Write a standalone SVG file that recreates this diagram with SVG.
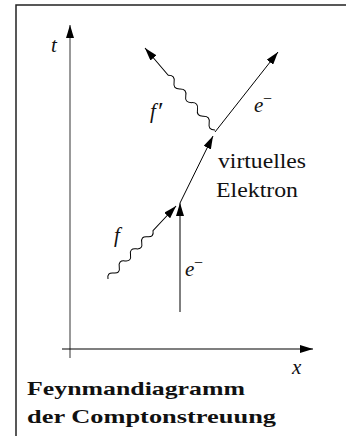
<svg xmlns="http://www.w3.org/2000/svg" width="346" height="436" viewBox="0 0 346 436">
<style>
.frame{stroke:#222;stroke-width:1.5;fill:none}
.ln{stroke:#000;stroke-width:1;fill:none}
.wave{stroke:#000;stroke-width:1;fill:none}
.math{font-family:'Liberation Serif',serif;font-style:italic;font-size:21px;fill:#111}
.sym{font-family:'Liberation Serif',serif;fill:#111}
.rm{font-family:'Liberation Serif',serif;font-size:21px;fill:#111}
.bf{font-family:'Liberation Serif',serif;font-weight:bold;font-size:19px;fill:#111}
</style>
<defs>
<marker id="arr" markerUnits="userSpaceOnUse" markerWidth="13" markerHeight="8" refX="13" refY="4" orient="auto">
<path d="M0,0 L13,4 L0,8 z" fill="#000"/>
</marker>
</defs>
<g id="frame">
<path class="frame" d="M16,436 L16,5 L346,5"/>
</g>
<g id="axes">
<line x1="70" y1="358" x2="70" y2="25" stroke="#777" stroke-width="1.5" marker-end="url(#arr)"/>
<line x1="62" y1="349" x2="313" y2="349" stroke="#000" stroke-width="1.2" marker-end="url(#arr)"/>
<text class="math" x="51" y="52">t</text>
<text class="math" x="292" y="374">x</text>
</g>
<g id="connectors">
<line class="ln" x1="180" y1="312" x2="180" y2="203" marker-end="url(#arr)"/>
<line class="ln" x1="180" y1="203" x2="213" y2="136" marker-end="url(#arr)"/>
<line class="ln" x1="215" y1="132" x2="278" y2="52" marker-end="url(#arr)"/>
<path class="wave" transform="translate(215,130) rotate(229.5)" d="M0,0 q4.5,-5.5 9,0 t9,0 t9,0 t9,0 t9,0 t9,0 t9,0 t9,0 L107.8,0" marker-end="url(#arr)"/>
<path class="wave" transform="translate(108,279) rotate(-47)" d="M0,0 q4.1,-5.5 8.25,0 t8.25,0 t8.25,0 t8.25,0 t8.25,0 t8.25,0 t8.25,0 t8.25,0 L99.8,0" marker-end="url(#arr)"/>
</g>
<g id="labels">
<text class="math" x="150" y="118">f</text>
<text class="sym" font-size="26" x="158" y="120">′</text>
<text class="math" x="254" y="112">e</text>
<text class="sym" font-size="16" x="263" y="104">−</text>
<text class="rm" x="218" y="168" textLength="88" lengthAdjust="spacingAndGlyphs">virtuelles</text>
<text class="rm" x="216" y="197" textLength="82" lengthAdjust="spacingAndGlyphs">Elektron</text>
<text class="math" x="114" y="242">f</text>
<text class="math" x="185" y="276">e</text>
<text class="sym" font-size="16" x="194" y="268">−</text>
</g>
<g id="title">
<text class="bf" x="27" y="395" textLength="218" lengthAdjust="spacingAndGlyphs">Feynmandiagramm</text>
<text class="bf" x="27" y="423" textLength="249" lengthAdjust="spacingAndGlyphs">der Comptonstreuung</text>
</g>
</svg>
